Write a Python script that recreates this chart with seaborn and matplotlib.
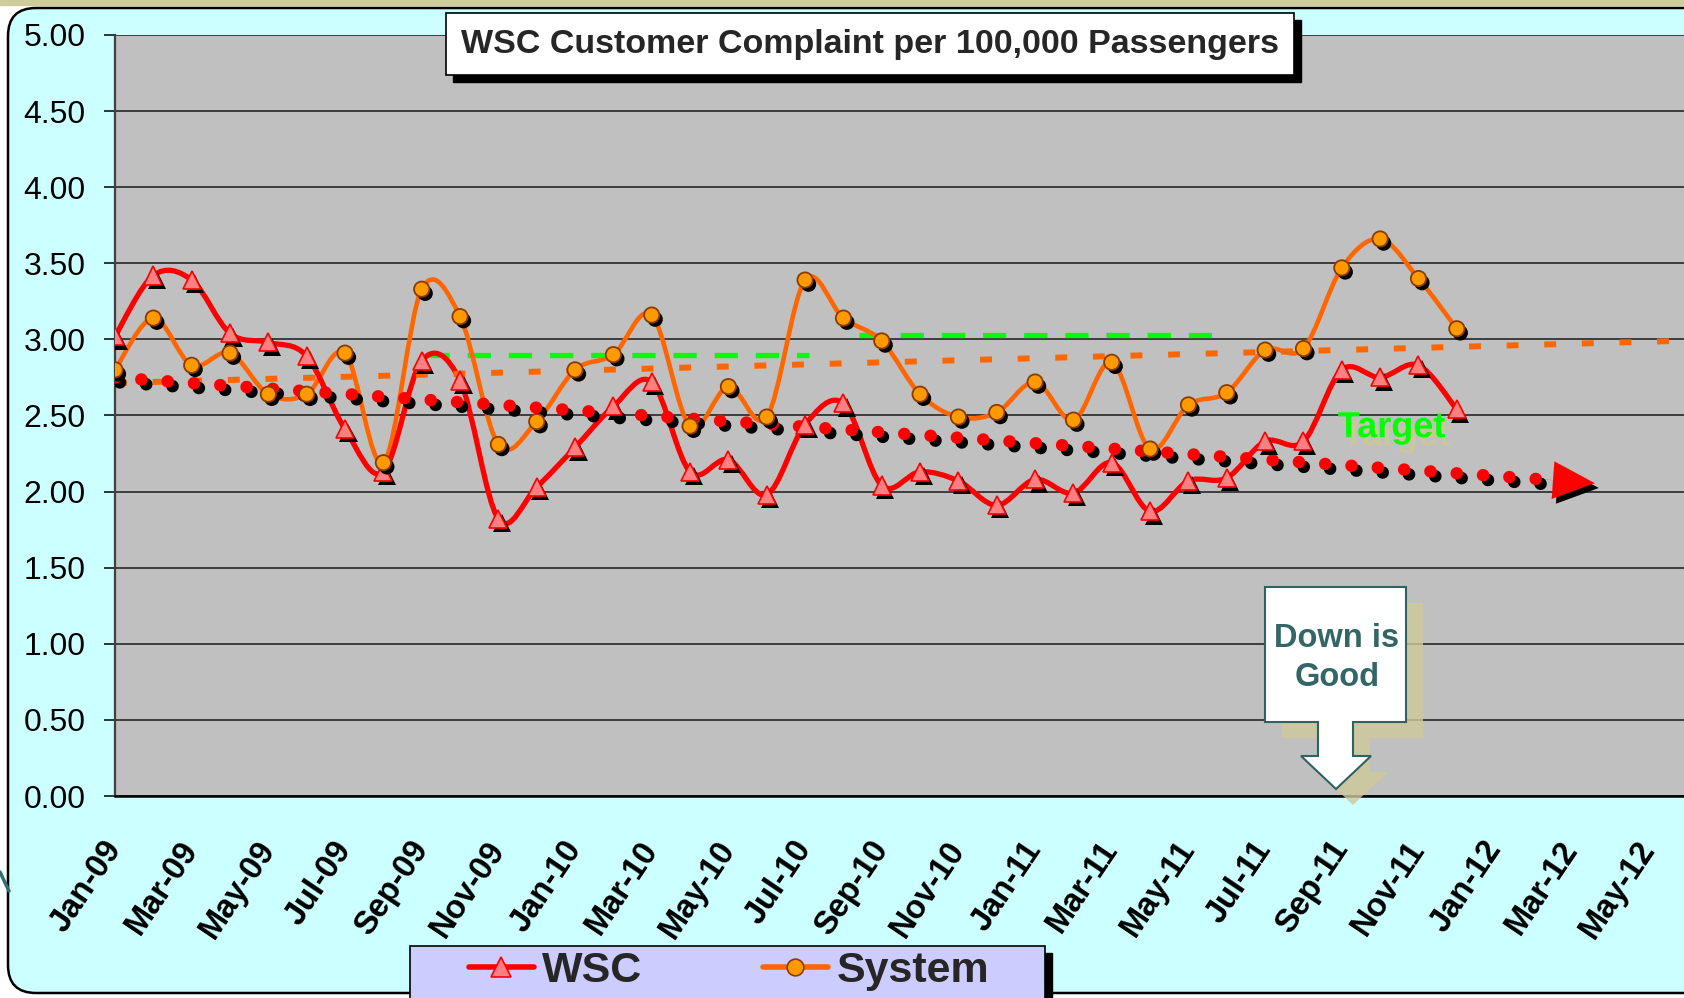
import numpy as np
import pandas as pd
import seaborn as sns
import matplotlib.pyplot as plt
import matplotlib.patheffects as pe
from matplotlib.path import Path
from matplotlib.patches import PathPatch, Rectangle, FancyBboxPatch, Polygon
from matplotlib.lines import Line2D
from matplotlib.transforms import IdentityTransform

# --- data --------------------------------------------------------------
months = ['Jan-09', 'Feb-09', 'Mar-09', 'Apr-09', 'May-09', 'Jun-09',
          'Jul-09', 'Aug-09', 'Sep-09', 'Oct-09', 'Nov-09', 'Dec-09',
          'Jan-10', 'Feb-10', 'Mar-10', 'Apr-10', 'May-10', 'Jun-10',
          'Jul-10', 'Aug-10', 'Sep-10', 'Oct-10', 'Nov-10', 'Dec-10',
          'Jan-11', 'Feb-11', 'Mar-11', 'Apr-11', 'May-11', 'Jun-11',
          'Jul-11', 'Aug-11', 'Sep-11', 'Oct-11', 'Nov-11', 'Dec-11']
wsc = [3.02, 3.42, 3.39, 3.04, 2.98, 2.89, 2.41, 2.13, 2.86, 2.73, 1.82, 2.03,
       2.29, 2.56, 2.72, 2.13, 2.21, 1.98, 2.44, 2.58, 2.04, 2.13, 2.07, 1.91,
       2.08, 1.99, 2.19, 1.87, 2.07, 2.09, 2.33, 2.33, 2.80, 2.75, 2.83, 2.54]
system = [2.80, 3.14, 2.83, 2.91, 2.64, 2.64, 2.91, 2.19, 3.33, 3.15, 2.31, 2.46,
          2.80, 2.90, 3.16, 2.43, 2.69, 2.49, 3.39, 3.14, 2.99, 2.64, 2.49, 2.52,
          2.72, 2.47, 2.85, 2.28, 2.57, 2.65, 2.93, 2.94, 3.47, 3.66, 3.40, 3.07]
tick_labels = ['Jan-09', 'Mar-09', 'May-09', 'Jul-09', 'Sep-09', 'Nov-09',
               'Jan-10', 'Mar-10', 'May-10', 'Jul-10', 'Sep-10', 'Nov-10',
               'Jan-11', 'Mar-11', 'May-11', 'Jul-11', 'Sep-11', 'Nov-11',
               'Jan-12', 'Mar-12', 'May-12']
y_ticks = [0.0, 0.5, 1.0, 1.5, 2.0, 2.5, 3.0, 3.5, 4.0, 4.5, 5.0]
# target levels (month index where each dashed target starts / ends)
target_start = [8.1, 19.4]
target_end = [18.1, 28.8]
target_value = [2.90, 3.03]
wsc_forecast_end = 37.6
system_forecast_end = 41.0

df = pd.DataFrame({'m': np.arange(len(months)), 'month': months,
                   'WSC': wsc, 'System': system})

sns.set_style('white')
plt.rcParams['font.family'] = ['Liberation Sans', 'DejaVu Sans']

W, H = 1684, 998
fig = plt.figure(figsize=(W / 100, H / 100), dpi=100)
fig.patch.set_facecolor('white')
px = IdentityTransform()

# slide background: khaki strip + cyan rounded panel
fig.add_artist(Rectangle((0, H - 5), W, 5, color='#CFCB9B', transform=px, zorder=-3))
fig.add_artist(FancyBboxPatch((8, 5), 1720, 985, boxstyle='round,pad=0,rounding_size=28',
                              fc='#CCFFFF', ec='black', lw=1.8, transform=px, zorder=-2))
fig.add_artist(Line2D([0, 9], [H - 872, H - 891], color='#2F6F6F', lw=2.5,
                      transform=px, zorder=-1))

ax = fig.add_axes([115 / W, 1 - 796 / H, 1 - 115 / W + 0.001, (796 - 35) / H])
ax.set_facecolor('#C0C0C0')
ax.set_xlim(0, 40.97)
ax.set_ylim(0, 5)


def smooth_path(xs, ys):
    # Excel-style smoothed line: cubic Bezier through every data point
    pts = np.column_stack([xs, ys]).astype(float)
    ext = np.vstack([pts[0], pts, pts[-1]])
    verts, codes = [pts[0]], [Path.MOVETO]
    for i in range(len(pts) - 1):
        p0, p1, p2, p3 = ext[i], ext[i + 1], ext[i + 2], ext[i + 3]
        verts += [p1 + (p2 - p0) / 6, p2 - (p3 - p1) / 6, p2]
        codes += [Path.CURVE4] * 3
    return Path(verts, codes)


# smoothed series lines
ax.add_patch(PathPatch(smooth_path(df['m'], df['System']), fill=False,
                       ec='#FF6600', lw=3.3, capstyle='round', joinstyle='round', zorder=4))
ax.add_patch(PathPatch(smooth_path(df['m'], df['WSC']), fill=False,
                       ec='#FF0000', lw=3.8, capstyle='round', joinstyle='round', zorder=4))

# target dashes
for x0, x1, v in zip(target_start, target_end, target_value):
    ax.plot([x0, x1], [v, v], color='#00FF00', lw=3.8, linestyle=(0, (4.4, 3.4)), zorder=3)

# linear trends
fit_w = np.polyfit(df['m'], df['WSC'], 1)
fit_s = np.polyfit(df['m'], df['System'], 1)
tx_s = np.array([0, system_forecast_end])
ax.plot(tx_s, np.polyval(fit_s, tx_s), color='#FF6600', lw=4.3,
        linestyle=(0, (2.0, 4.3)), zorder=5)
tx_w = np.array([0, wsc_forecast_end])
shadow = [pe.SimpleLineShadow(offset=(3.5, -3.5), shadow_color='black', alpha=1), pe.Normal()]
ax.plot(tx_w, np.polyval(fit_w, tx_w), color='#FF0000', lw=9,
        linestyle=(0, (0.01, 2.1)), dash_capstyle='round', zorder=5, path_effects=shadow)
tip = wsc_forecast_end + 1.0
ax.annotate('', xy=(tip, np.polyval(fit_w, tip)),
            xytext=(wsc_forecast_end - 0.3, np.polyval(fit_w, wsc_forecast_end - 0.3)),
            arrowprops=dict(arrowstyle='-|>,head_length=1.0,head_width=0.45',
                            mutation_scale=30, color='#FF0000', lw=0.1,
                            shrinkA=0, shrinkB=0,
                            path_effects=[pe.SimplePatchShadow(offset=(3, -3.5),
                                                               shadow_rgbFace='black', alpha=1),
                                          pe.Normal()]),
            zorder=5)

# markers with drop shadow
mshadow = [pe.SimplePatchShadow(offset=(2.5, -3), shadow_rgbFace='black', alpha=1), pe.Normal()]
sns.lineplot(data=df, x='m', y='WSC', ax=ax, linestyle='None', marker='^', markersize=13,
             markerfacecolor='#FF8080', markeredgecolor='#FF0000', markeredgewidth=1.2,
             zorder=6, path_effects=mshadow)
sns.lineplot(data=df, x='m', y='System', ax=ax, linestyle='None', marker='o', markersize=11,
             markerfacecolor='#FF9900', markeredgecolor='#8B3A00', markeredgewidth=1.3,
             zorder=7, path_effects=mshadow)

ax.text(33.3, 2.42, 'Target', color='#00FF00', fontsize=26, weight='bold',
        ha='center', va='center', zorder=8,
        path_effects=[pe.SimplePatchShadow(offset=(3.5, -6), shadow_rgbFace='#CBC79C', alpha=1),
                      pe.Normal()])

# axes styling
ax.set_xlabel('')
ax.set_ylabel('')
ax.set_yticks(y_ticks)
ax.set_yticklabels([f'{v:.2f}' for v in y_ticks], fontsize=23)
ax.set_xticks(np.arange(0, 41, 2))
ax.set_xticks(np.arange(1, 41, 2), minor=True)
ax.set_xticklabels(tick_labels, fontsize=23.5, weight='bold', rotation=56,
                   ha='right', va='center', rotation_mode='anchor')
ax.tick_params(axis='x', which='major', direction='inout', length=15, width=1.1,
               pad=27, colors='black')
ax.tick_params(axis='x', which='minor', direction='out', length=6, width=1.0, colors='black')
ax.tick_params(axis='y', which='major', direction='out', length=8, width=1.1, pad=13,
               colors='black', left=True)
ax.yaxis.grid(True, color='#1A1A1A', lw=1.1)
ax.xaxis.grid(False)
ax.set_axisbelow(True)
for side in ['top', 'right']:
    ax.spines[side].set_visible(False)
ax.spines['left'].set_color('#404040')
ax.spines['left'].set_linewidth(1.6)
ax.spines['bottom'].set_color('black')
ax.spines['bottom'].set_linewidth(1.8)

# title box with black shadow
fig.add_artist(Rectangle((453, H - 82), 848, 62, color='black', transform=px, zorder=2))
fig.add_artist(Rectangle((446, H - 75), 848, 62, fc='white', ec='black', lw=1.2,
                         transform=px, zorder=3))
fig.text(870 / W, 1 - 44 / H, 'WSC Customer Complaint per 100,000 Passengers',
         fontsize=24.5, weight='bold', ha='center', va='center', zorder=4)

# "Down is Good" callout
callout = np.array([(1265, 587), (1406, 587), (1406, 722), (1353, 722), (1353, 756),
                    (1371, 756), (1336, 789), (1301, 756), (1318, 756), (1318, 722),
                    (1265, 722)], dtype=float)
sh = callout + np.array([17, 16])
fig.add_artist(Polygon(np.column_stack([sh[:, 0], H - sh[:, 1]]), closed=True,
                       fc='#CFC99A', ec='none', alpha=0.8, transform=px, zorder=2))
fig.add_artist(Polygon(np.column_stack([callout[:, 0], H - callout[:, 1]]), closed=True,
                       fc='white', ec='#2F6262', lw=1.5, transform=px, zorder=3))
fig.text(1337 / W, 1 - 658 / H, 'Down is\nGood', color='#336666', fontsize=23.5,
         weight='bold', ha='center', va='center', linespacing=1.3, zorder=4)

# legend panel
fig.add_artist(Rectangle((417, -20), 635, H - 953 + 20, color='black', transform=px, zorder=2))
fig.add_artist(Rectangle((410, -20), 635, H - 946 + 20, fc='#CCCCFF', ec='black', lw=1.2,
                         transform=px, zorder=3))
handles = [Line2D([], [], color='#FF0000', lw=4, marker='^', ms=15,
                  mfc='#FF8080', mec='#FF0000', mew=1.2),
           Line2D([], [], color='#FF6600', lw=4, marker='o', ms=12,
                  mfc='#FF9900', mec='#8B3A00', mew=1.2)]
leg = fig.legend(handles, ['WSC', 'System'], ncol=2, loc='center',
                 bbox_to_anchor=(729 / W, 1 - 971 / H), frameon=False,
                 prop=dict(weight='bold', size=31), handlelength=1.5,
                 handletextpad=0.2, columnspacing=2.8)
leg.set_zorder(5)

fig.savefig('out.png', dpi=100)
